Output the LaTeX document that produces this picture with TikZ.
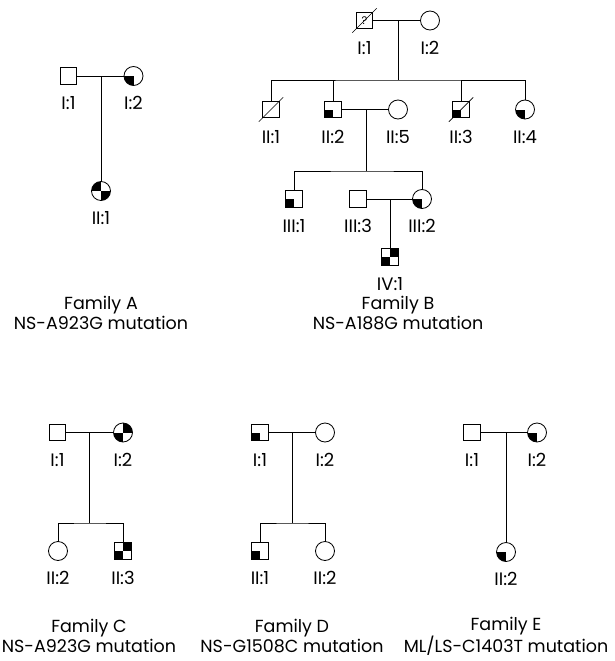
\documentclass[tikz,border=0pt]{standalone}
\usepackage{fontspec}
\setmainfont{Poppins}
\usetikzlibrary{positioning}

\begin{document}
\begin{tikzpicture}[x=1pt,y=-1pt,line width=0.8pt,node distance=20.7pt,
	male/.style={draw,rectangle,minimum size=16.5pt,inner sep=0pt},
	female/.style={draw,circle,minimum size=19pt,inner sep=0pt},
	carrier/.style={path picture={\fill (path picture bounding box.center) rectangle (path picture bounding box.south west);}},
	twotl/.style={path picture={\fill (path picture bounding box.center) rectangle (path picture bounding box.north west);
		\fill (path picture bounding box.center) rectangle (path picture bounding box.south east);}},
	twotr/.style={path picture={\fill (path picture bounding box.center) rectangle (path picture bounding box.north east);
		\fill (path picture bounding box.center) rectangle (path picture bounding box.south west);}},
	lab/.style={inner sep=0pt,text height=12.6pt,text depth=0pt,font=\fontsize{18}{20}\selectfont},
	famtext/.style={align=center,inner sep=0pt,font=\fontsize{17.5}{20}\selectfont}]
	\useasboundingbox (0,0) rectangle (614,661);

	% Family A
	\node[male] (AI1) at (68.5,76) {};
	\node[female,carrier] (AI2) at (133.5,76) {};
	\node[female,twotl] (AII1) at (101,191) {};
	\coordinate (Am) at (101,76);
	\draw (AI1) -- (AI2) (Am) -- (AII1);
	\node[lab,below=of AI1.center] (AI1l) {I:1};
	\node[lab,below=of AI2.center] (AI2l) {I:2};
	\node[lab,below=of AII1.center] (AII1l) {II:1};
	\node[famtext] (Acap) at (101,313) {Family A\\NS-A923G mutation};

	% Family B
	\node[male,font=\fontsize{11}{11}\selectfont] (BI1) at (364.5,20.5) {?};
	\node[female] (BI2) at (430,20.5) {};
	\node[male] (BII1) at (271,109.5) {};
	\node[male,carrier] (BII2) at (333,109.5) {};
	\node[female] (BII5) at (398,109.5) {};
	\node[male,carrier] (BII3) at (461,109.5) {};
	\node[female,carrier] (BII4) at (525,109.5) {};
	\node[male,carrier] (BIII1) at (294,199) {};
	\node[male] (BIII3) at (358,199) {};
	\node[female,carrier] (BIII2) at (422,199) {};
	\node[male,twotr] (BIV1) at (390,257) {};
	\coordinate (Bm) at (398,20.5);
	\coordinate (Bs) at (398,80);
	\coordinate (Bm2) at (366,109.5);
	\coordinate (Bs2) at (366,171);
	\coordinate (Bm3) at (390,199);
	\draw (BI1) -- (BI2) (Bm) -- (Bs);
	\draw (BII1) |- (Bs) -| (BII4);
	\draw (BII2) -- (BII2 |- Bs) (BII3) -- (BII3 |- Bs);
	\draw (BII2) -- (BII5) (Bm2) -- (Bs2);
	\draw (BIII1) |- (Bs2) -| (BIII2);
	\draw (BIII3) -- (BIII2) (Bm3) -- (BIV1);
	\foreach \n in {BI1,BII1,BII3}
		\draw[line width=0.7pt] ([shift={(-3.5,3.5)}]\n.south west) -- ([shift={(3.5,-3.5)}]\n.north east);
	\node[lab,below=of BI1.center] (BI1l) {I:1};
	\node[lab,below=of BI2.center] (BI2l) {I:2};
	\node[lab,below=of BII1.center] (BII1l) {II:1};
	\node[lab,below=of BII2.center] (BII2l) {II:2};
	\node[lab,below=of BII5.center] (BII5l) {II:5};
	\node[lab,below=of BII3.center] (BII3l) {II:3};
	\node[lab,below=of BII4.center] (BII4l) {II:4};
	\node[lab,below=of BIII1.center] (BIII1l) {III:1};
	\node[lab,below=of BIII3.center] (BIII3l) {III:3};
	\node[lab,below=of BIII2.center] (BIII2l) {III:2};
	\node[lab,below=of BIV1.center] (BIV1l) {IV:1};
	\node[famtext] (Bcap) at (398,313) {Family B\\NS-A188G mutation};

	% Family C
	\node[male] (CI1) at (57.5,432.5) {};
	\node[female,twotr] (CI2) at (123,432.5) {};
	\node[female] (CII2) at (58,551) {};
	\node[male,twotr] (CII3) at (123,551) {};
	\coordinate (Cm) at (89,432.5);
	\coordinate (Cs) at (89,523);
	\draw (CI1) -- (CI2) (Cm) -- (Cs);
	\draw (CII2) |- (Cs) -| (CII3);
	\node[lab,below=of CI1.center] (CI1l) {I:1};
	\node[lab,below=of CI2.center] (CI2l) {I:2};
	\node[lab,below=of CII2.center] (CII2l) {II:2};
	\node[lab,below=of CII3.center] (CII3l) {II:3};
	\node[famtext] (Ccap) at (89,636) {Family C\\NS-A923G mutation};

	% Family D
	\node[male,carrier] (DI1) at (260,432.5) {};
	\node[female] (DI2) at (325,432.5) {};
	\node[male,carrier] (DII1) at (260,551) {};
	\node[female] (DII2) at (325,551) {};
	\coordinate (Dm) at (292,432.5);
	\coordinate (Ds) at (292,523);
	\draw (DI1) -- (DI2) (Dm) -- (Ds);
	\draw (DII1) |- (Ds) -| (DII2);
	\node[lab,below=of DI1.center] (DI1l) {I:1};
	\node[lab,below=of DI2.center] (DI2l) {I:2};
	\node[lab,below=of DII1.center] (DII1l) {II:1};
	\node[lab,below=of DII2.center] (DII2l) {II:2};
	\node[famtext] (Dcap) at (292,636) {Family D\\NS-G1508C mutation};

	% Family E
	\node[male] (EI1) at (472,432.5) {};
	\node[female,carrier] (EI2) at (537,432.5) {};
	\node[female,carrier] (EII2) at (506,552) {};
	\coordinate (Em) at (506,432.5);
	\draw (EI1) -- (EI2) (Em) -- (EII2);
	\node[lab,below=of EI1.center] (EI1l) {I:1};
	\node[lab,below=of EI2.center] (EI2l) {I:2};
	\node[lab,below=of EII2.center] (EII2l) {II:2};
	\node[famtext] (Ecap) at (506,636) {Family E\\ML/LS-C1403T mutation};
\end{tikzpicture}
\end{document}
